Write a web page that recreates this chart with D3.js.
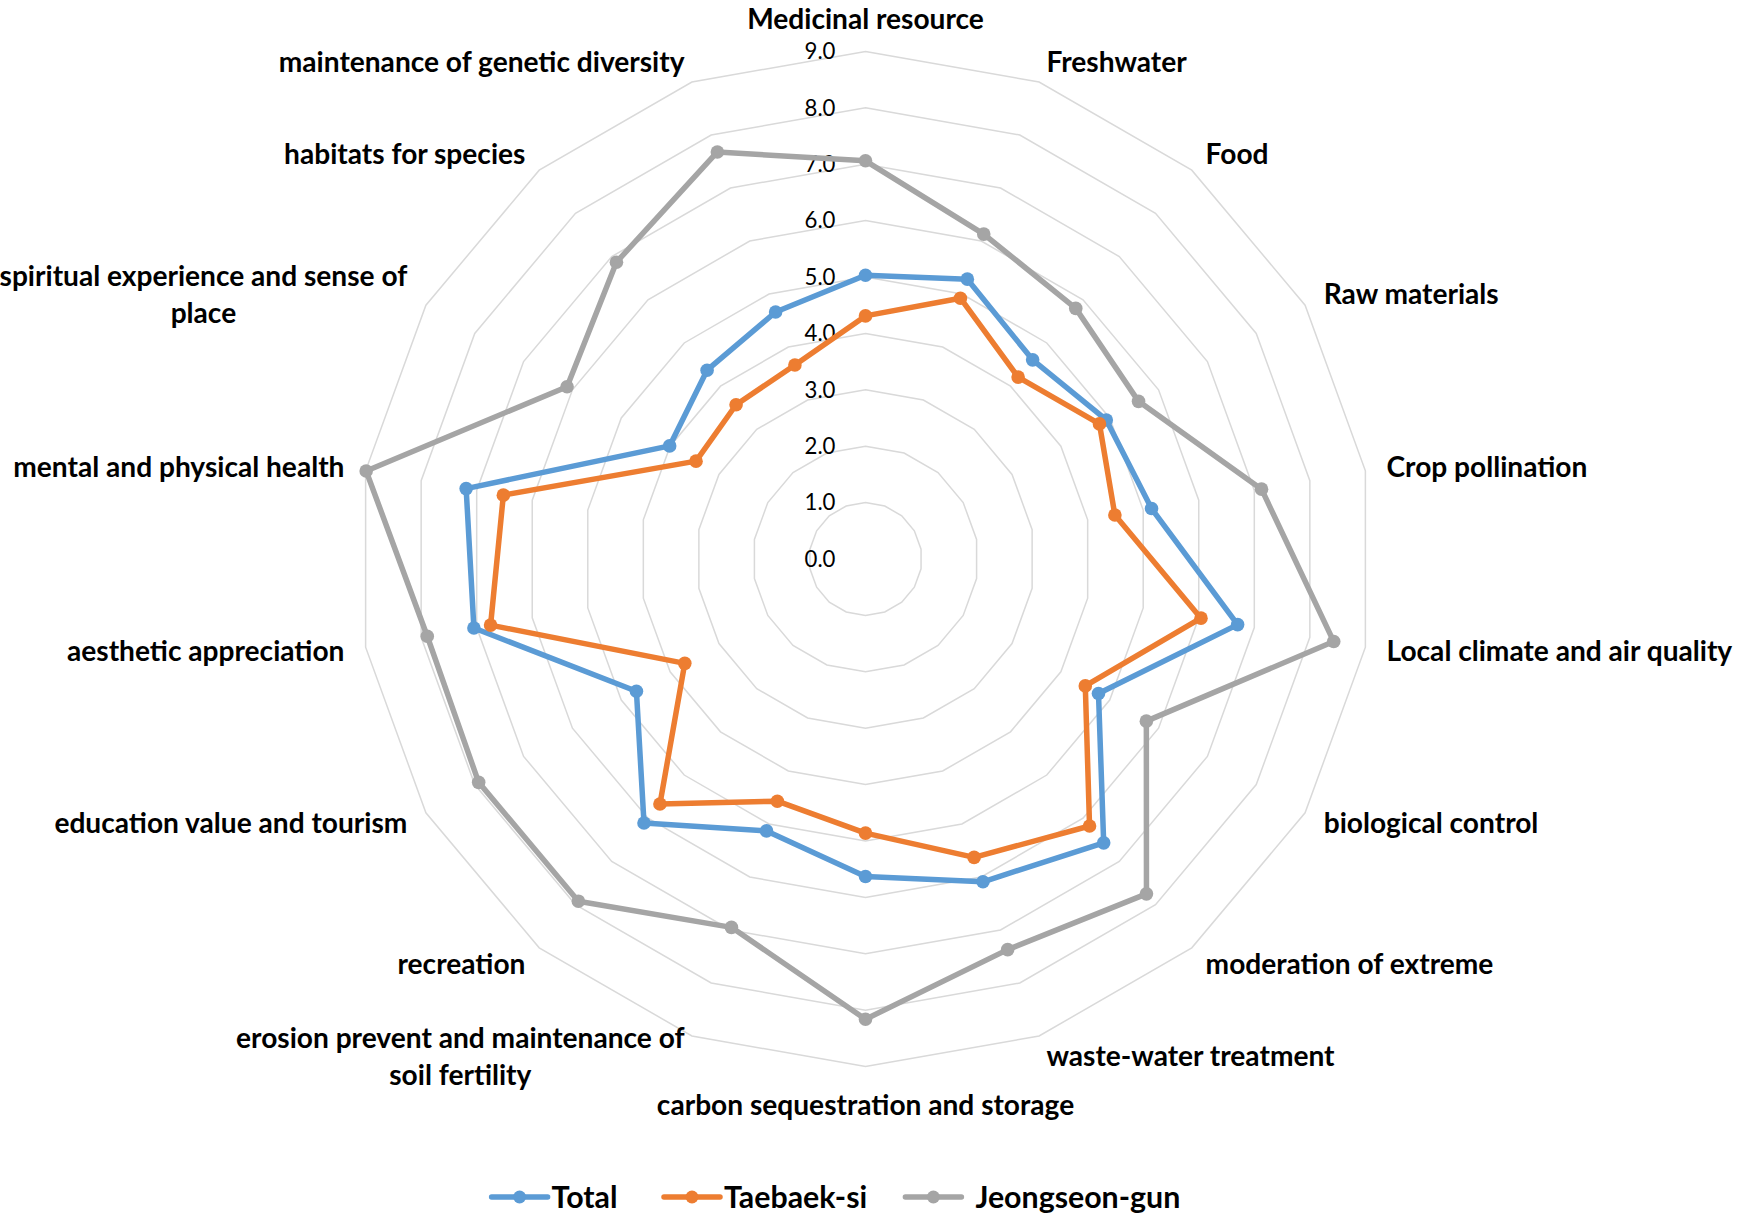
<!DOCTYPE html>
<html>
<head>
<meta charset="utf-8">
<script src="https://cdn.jsdelivr.net/npm/d3@7"></script>
<style>
  html, body { margin: 0; padding: 0; background: #fff; }
  svg { display: block; }
</style>
</head>
<body>
<script>
// ---------------- data ----------------
const categories = [
  "Medicinal resource",
  "Freshwater",
  "Food",
  "Raw materials",
  "Crop pollination",
  "Local climate and air quality",
  "biological control",
  "moderation of extreme",
  "waste-water treatment",
  "carbon sequestration and storage",
  "erosion prevent and maintenance of\nsoil fertility",
  "recreation",
  "education value and tourism",
  "aesthetic appreciation",
  "mental and physical health",
  "spiritual experience and sense of\nplace",
  "habitats for species",
  "maintenance of genetic diversity"
];
const seriesNames = ["Total", "Taebaek-si", "Jeongseon-gun"];
const totalValues     = [5.03, 5.28, 4.61, 4.93, 5.15, 6.70, 4.77, 6.57, 6.09, 5.63, 5.13, 6.11, 4.69, 7.05, 7.19, 4.01, 4.37, 4.66];
const taebaekValues   = [4.31, 4.92, 4.21, 4.79, 4.49, 6.04, 4.50, 6.18, 5.63, 4.86, 4.57, 5.67, 3.70, 6.75, 6.52, 3.47, 3.57, 3.66];
const jeongseonValues = [7.06, 6.13, 5.80, 5.59, 7.13, 8.43, 5.75, 7.75, 7.37, 8.16, 6.95, 7.92, 7.92, 7.89, 8.99, 6.11, 6.87, 7.68];
const tickValues = [0, 1, 2, 3, 4, 5, 6, 7, 8, 9];
const seriesColors = ["#5B9BD5", "#ED7D31", "#A5A5A5"];

// ---------------- layout ----------------
const W = 1738, H = 1215;
const cx = 865.5, cy = 559;
const R = 507.6;
const FONT = "Lato, 'Open Sans', 'Liberation Sans', sans-serif";

const svg = d3.select("body").append("svg")
  .attr("width", W).attr("height", H)
  .attr("viewBox", `0 0 ${W} ${H}`);

// font calibration helper (match reference text widths)
function fitSize(str, target, weight) {
  const t = svg.append("text").attr("font-family", FONT)
    .attr("font-weight", weight).attr("font-size", 100).text(str);
  const w = t.node().getComputedTextLength();
  t.remove();
  return 100 * target / w;
}
const labelSize = (fitSize("maintenance of genetic diversity", 407, "bold") +
                   fitSize("Medicinal resource", 236, "bold")) / 2;
const legendSize = (fitSize("Jeongseon-gun", 201, "bold") +
                    fitSize("Taebaek-si", 146, "bold")) / 2;
const tickSize = fitSize("9.0", 31, "normal");

const rScale = d3.scaleLinear().domain([0, 9]).range([0, R]);
const aScale = d3.scaleLinear().domain([0, categories.length]).range([0, 2 * Math.PI]);

const g = svg.append("g").attr("transform", `translate(${cx},${cy})`);

// grid rings
const ringLine = d3.lineRadial()
  .angle((d, i) => aScale(i))
  .radius(d => rScale(d))
  .curve(d3.curveLinearClosed);

g.append("g").selectAll("path")
  .data(tickValues.filter(v => v > 0))
  .join("path")
  .attr("d", v => ringLine(categories.map(() => v)))
  .attr("fill", "none")
  .attr("stroke", "#D9D9D9")
  .attr("stroke-width", 1.5);

// tick labels
g.append("g").selectAll("text")
  .data(tickValues)
  .join("text")
  .attr("x", -30)
  .attr("y", v => -rScale(v))
  .attr("dy", "0.35em")
  .attr("text-anchor", "end")
  .attr("font-family", FONT)
  .attr("font-size", tickSize)
  .attr("fill", "#000")
  .text(d3.format(".1f"));

// series
const seriesData = [totalValues, taebaekValues, jeongseonValues];
const seriesLine = d3.lineRadial()
  .angle((d, i) => aScale(i))
  .radius(d => rScale(d))
  .curve(d3.curveLinearClosed);

seriesData.forEach((vals, si) => {
  const sg = g.append("g");
  sg.append("path")
    .attr("d", seriesLine(vals))
    .attr("fill", "none")
    .attr("stroke", seriesColors[si])
    .attr("stroke-width", 5.5)
    .attr("stroke-linejoin", "round");
  sg.selectAll("circle")
    .data(vals)
    .join("circle")
    .attr("cx", (d, i) => rScale(d) * Math.sin(aScale(i)))
    .attr("cy", (d, i) => -rScale(d) * Math.cos(aScale(i)))
    .attr("r", 6.8)
    .attr("fill", seriesColors[si]);
});

// category labels
const labelR = R + 21.5;
const lineGap = 37;
categories.forEach((cat, i) => {
  const a = aScale(i);
  const s = Math.sin(a), c = Math.cos(a);
  const lines = cat.split("\n");
  let ax, ay;
  let anchor;
  if (Math.abs(s) < 0.01) {
    anchor = "middle";
    const rr = c > 0 ? R + 32 : R + 39;
    ax = rr * s; ay = -rr * c;
  } else {
    anchor = s > 0 ? "start" : "end";
    ax = labelR * s; ay = -labelR * c;
  }
  const t = g.append("text")
    .attr("font-family", FONT)
    .attr("font-weight", "bold")
    .attr("font-size", labelSize)
    .attr("fill", "#000");
  lines.forEach((ln) => {
    t.append("tspan").text(ln);
  });
  const widths = [];
  t.selectAll("tspan").each(function() { widths.push(this.getComputedTextLength()); });
  const maxW = d3.max(widths);
  let bx;
  if (anchor === "middle") bx = ax;
  else if (anchor === "start") bx = ax + maxW / 2;
  else bx = ax - maxW / 2;
  const n = lines.length;
  t.selectAll("tspan")
    .attr("x", bx)
    .attr("text-anchor", "middle")
    .attr("y", (d, k) => ay + (k - (n - 1) / 2) * lineGap)
    .attr("dy", "0.35em");
});

// legend
const legendY = 1197;
const legendX = [491.6, 664, 905.4];
const legendTextOffset = [60, 60, 70];
const legend = svg.append("g");
seriesNames.forEach((name, si) => {
  const lx = legendX[si];
  const item = legend.append("g");
  item.append("line")
    .attr("x1", lx).attr("x2", lx + 56)
    .attr("y1", legendY).attr("y2", legendY)
    .attr("stroke", seriesColors[si]).attr("stroke-width", 5.5)
    .attr("stroke-linecap", "round");
  item.append("circle")
    .attr("cx", lx + 28).attr("cy", legendY).attr("r", 6.5)
    .attr("fill", seriesColors[si]);
  item.append("text")
    .attr("x", lx + legendTextOffset[si]).attr("y", legendY).attr("dy", "0.35em")
    .attr("font-family", FONT).attr("font-weight", "bold")
    .attr("font-size", legendSize).attr("fill", "#000")
    .text(name);
});
</script>
</body>
</html>
